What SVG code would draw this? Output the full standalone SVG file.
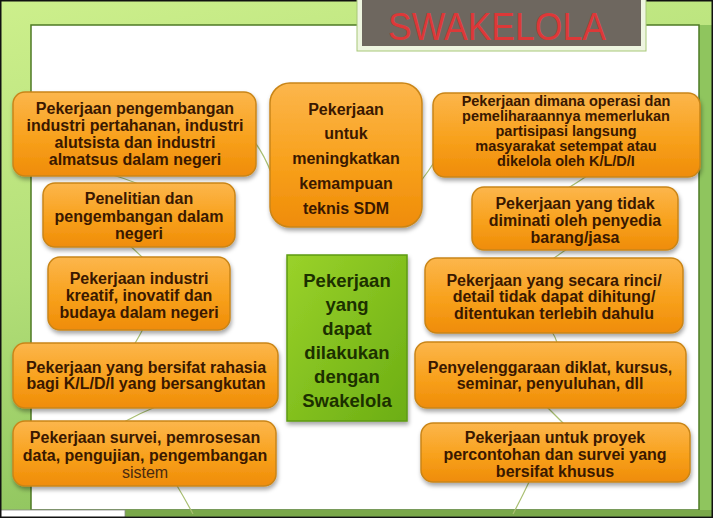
<svg xmlns="http://www.w3.org/2000/svg" width="713" height="518" viewBox="0 0 713 518">
<defs>
<linearGradient id="bg" x1="0" y1="0" x2="0.3" y2="1">
<stop offset="0" stop-color="#cdef8c"/>
<stop offset="0.5" stop-color="#b3df78"/>
<stop offset="1" stop-color="#8cc25c"/>
</linearGradient>
<linearGradient id="org" x1="0" y1="0" x2="0" y2="1">
<stop offset="0" stop-color="#fcb64c"/>
<stop offset="0.55" stop-color="#f8a11c"/>
<stop offset="1" stop-color="#ef8c08"/>
</linearGradient>
<linearGradient id="grn" x1="0" y1="0" x2="1" y2="1">
<stop offset="0" stop-color="#9ad22a"/>
<stop offset="1" stop-color="#6cae14"/>
</linearGradient>
<filter id="sh" x="-10%" y="-10%" width="125%" height="135%">
<feDropShadow dx="1" dy="3" stdDeviation="2" flood-color="#000" flood-opacity="0.35"/>
</filter>
<style>
.box{fill:url(#org);stroke:#c98518;stroke-width:1.5;filter:url(#sh)}
.t{font-family:"Liberation Sans",Arial,sans-serif;font-weight:bold;font-size:16px;fill:#3a1800;text-anchor:middle}
.s{font-size:14.5px}
.c{font-family:"Liberation Sans",Arial,sans-serif;font-weight:bold;font-size:18.5px;fill:#1c3000;text-anchor:middle}
.ln{fill:none;stroke:#a9bf72;stroke-width:1.2}
</style>
</defs>
<rect x="0" y="0" width="713" height="518" fill="url(#bg)"/>
<rect x="699" y="25" width="14" height="490" fill="#8fc55e"/>
<rect x="31" y="25" width="668" height="485" fill="#ffffff" stroke="#4d7a24" stroke-width="1.5"/>
<rect x="125" y="510" width="588" height="6" fill="#7aa84a"/>
<rect x="0" y="510" width="125" height="8" fill="#ffffff" stroke="#888" stroke-width="0.8"/>
<rect x="0.75" y="0.75" width="711.5" height="516.5" fill="none" stroke="#111" stroke-width="1.5"/>
<g id="title">
<rect x="357" y="-2" width="289" height="53" fill="#eef5e0" stroke="#a8c878" stroke-width="1"/>
<rect x="362" y="0" width="279" height="46" fill="#6e675f"/>
<text x="497" y="40" font-family="'Liberation Sans',Arial,sans-serif" font-size="38" fill="#dd3838" text-anchor="middle" textLength="218" lengthAdjust="spacingAndGlyphs">SWAKELOLA</text>
</g>
<g id="connectors">
<path class="ln" d="M187,93 Q250,115 272,175"/>
<path class="ln" d="M418,185 Q428,172 437,158"/>
<path class="ln" d="M590,174 Q578,182 565,190"/>
<path class="ln" d="M570,247 Q561,253 550,261"/>
<path class="ln" d="M551,330 Q555,336 558,345"/>
<path class="ln" d="M545,405 Q555,415 566,426"/>
<path class="ln" d="M530,480 Q522,497 513,514"/>
<path class="ln" d="M105,173 Q125,178 143,186"/>
<path class="ln" d="M128,244 Q136,251 145,260"/>
<path class="ln" d="M144,327 Q140,335 134,345"/>
<path class="ln" d="M160,405 Q140,413 120,424"/>
<path class="ln" d="M176,484 Q185,499 193,514"/>
</g>
<g id="n-left1">
<rect class="box" x="13" y="92" width="243" height="84" rx="12"/>
<text class="t" x="135" y="114">Pekerjaan pengembangan</text>
<text class="t" x="135" y="131">industri pertahanan, industri</text>
<text class="t" x="135" y="148">alutsista dan industri</text>
<text class="t" x="135" y="165">almatsus dalam negeri</text>
</g>
<g id="n-left2">
<rect class="box" x="43" y="183" width="192" height="64" rx="12"/>
<text class="t" x="139" y="204">Penelitian dan</text>
<text class="t" x="139" y="222">pengembangan dalam</text>
<text class="t" x="139" y="239">negeri</text>
</g>
<g id="n-left3">
<rect class="box" x="48" y="257" width="182" height="73" rx="12"/>
<text class="t" x="139" y="284">Pekerjaan industri</text>
<text class="t" x="139" y="301">kreatif, inovatif dan</text>
<text class="t" x="139" y="318">budaya dalam negeri</text>
</g>
<g id="n-left4">
<rect class="box" x="13" y="343" width="265" height="65" rx="12"/>
<text class="t" x="146" y="373">Pekerjaan yang bersifat rahasia</text>
<text class="t" x="146" y="389">bagi K/L/D/I yang bersangkutan</text>
</g>
<g id="n-left5">
<rect class="box" x="13" y="421" width="263" height="65" rx="12"/>
<text class="t" x="145" y="443">Pekerjaan survei, pemrosesan</text>
<text class="t" x="145" y="461">data, pengujian, pengembangan</text>
<text x="145" y="478" font-family="'Liberation Sans',Arial,sans-serif" font-size="16" fill="#4a2a10" text-anchor="middle">sistem</text>
</g>
<g id="n-top">
<rect class="box" x="270" y="83" width="152" height="144" rx="20"/>
<text class="t" x="346" y="115">Pekerjaan</text>
<text class="t" x="346" y="139">untuk</text>
<text class="t" x="346" y="164">meningkatkan</text>
<text class="t" x="346" y="189">kemampuan</text>
<text class="t" x="346" y="214">teknis SDM</text>
</g>
<g id="n-right1">
<rect class="box" x="433" y="93" width="267" height="84" rx="12"/>
<text class="t s" x="566" y="106">Pekerjaan dimana operasi  dan</text>
<text class="t s" x="566" y="121">pemeliharaannya memerlukan</text>
<text class="t s" x="566" y="136">partisipasi langsung</text>
<text class="t s" x="566" y="151">masyarakat setempat  atau</text>
<text class="t s" x="566" y="166">dikelola oleh K/L/D/I</text>
</g>
<g id="n-right2">
<rect class="box" x="472" y="187" width="206" height="63" rx="12"/>
<text class="t" x="575" y="209">Pekerjaan yang tidak</text>
<text class="t" x="575" y="226">diminati oleh penyedia</text>
<text class="t" x="575" y="243">barang/jasa</text>
</g>
<g id="n-right3">
<rect class="box" x="425" y="258" width="258" height="75" rx="12"/>
<text class="t" x="554" y="286">Pekerjaan yang secara rinci/</text>
<text class="t" x="554" y="302">detail tidak dapat dihitung/</text>
<text class="t" x="554" y="319">ditentukan terlebih dahulu</text>
</g>
<g id="n-right4">
<rect class="box" x="415" y="342" width="271" height="66" rx="12"/>
<text class="t" x="550" y="373">Penyelenggaraan diklat, kursus,</text>
<text class="t" x="550" y="389">seminar, penyuluhan, dll</text>
</g>
<g id="n-right5">
<rect class="box" x="421" y="423" width="269" height="59" rx="12"/>
<text class="t" x="555" y="443">Pekerjaan untuk proyek</text>
<text class="t" x="555" y="460">percontohan dan survei yang</text>
<text class="t" x="555" y="477">bersifat khusus</text>
</g>
<g id="n-center">
<rect x="287" y="255" width="120" height="166" fill="url(#grn)" stroke="#5e9a14" stroke-width="1.5" filter="url(#sh)"/>
<text class="c" x="347" y="287">Pekerjaan</text>
<text class="c" x="347" y="311">yang</text>
<text class="c" x="347" y="335">dapat</text>
<text class="c" x="347" y="359">dilakukan</text>
<text class="c" x="347" y="383">dengan</text>
<text class="c" x="347" y="407">Swakelola</text>
</g>
</svg>
